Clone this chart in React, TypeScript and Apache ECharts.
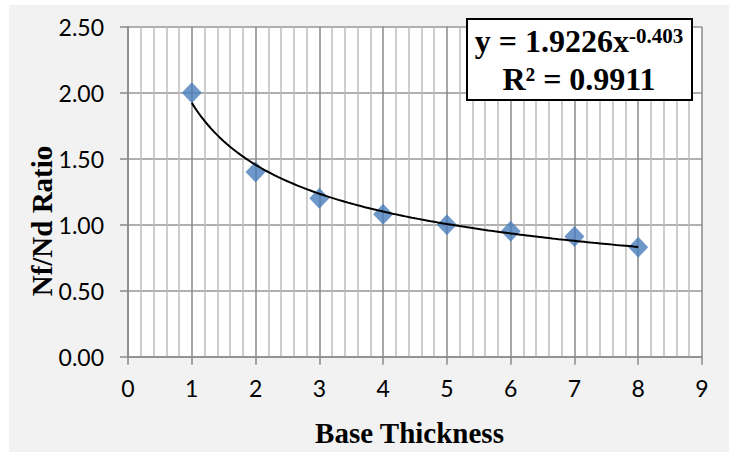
import React, { useEffect, useRef } from "react";
import * as echarts from "echarts";

const thickness = [1, 2, 3, 4, 5, 6, 7, 8];
const ratio = [2.0, 1.4, 1.2, 1.08, 1.0, 0.95, 0.91, 0.83];
const fitCoef = 1.9226;
const fitExp = -0.403;
const equationLine1 = "y = 1.9226x";
const equationSup = "-0.403";
const equationLine2 = "R² = 0.9911";
const xTitle = "Base Thickness";
const yTitle = "Nf/Nd Ratio";

export default function App() {
  const ref = useRef<HTMLDivElement>(null);
  useEffect(() => {
    if (!ref.current) return;
    const chart = echarts.init(ref.current, null, { renderer: "svg" });
    const trend: number[][] = [];
    for (let x = thickness[0]; x <= thickness[thickness.length - 1] + 1e-9; x += 0.05) {
      trend.push([x, fitCoef * Math.pow(x, fitExp)]);
    }
    const tickFont = { fontFamily: "Lato", fontSize: 23, color: "#000" };
    chart.setOption({
      animation: false,
      grid: {
        left: 128,
        top: 26.7,
        right: 27,
        bottom: 96.3,
        show: true,
        backgroundColor: "#ffffff",
        borderWidth: 0,
      },
      xAxis: {
        type: "value",
        min: 0,
        max: 9,
        interval: 1,
        axisLine: { show: true, lineStyle: { color: "#8a8a8a", width: 1.5 } },
        axisTick: { show: true, length: 8, inside: false, lineStyle: { color: "#8a8a8a", width: 1.5 } },
        axisLabel: { ...tickFont, margin: 20 },
        splitLine: { show: true, lineStyle: { color: "#8a8a8a", width: 1.5 } },
        minorTick: { show: false, splitNumber: 5 },
        minorSplitLine: { show: true, lineStyle: { color: "#bdbdbd", width: 1.5 } },
      },
      yAxis: {
        type: "value",
        min: 0,
        max: 2.5,
        interval: 0.5,
        axisLine: { show: true, lineStyle: { color: "#8a8a8a", width: 1.5 } },
        axisTick: { show: true, length: 8, inside: false, lineStyle: { color: "#8a8a8a", width: 1.5 } },
        axisLabel: { ...tickFont, margin: 24, formatter: (v: number) => v.toFixed(2) },
        splitLine: { show: true, lineStyle: { color: "#969696", width: 1.5 } },
      },
      series: [
        {
          type: "line",
          data: trend,
          showSymbol: false,
          symbol: "none",
          lineStyle: { color: "#000", width: 2 },
          z: 3,
          silent: true,
        },
        {
          type: "scatter",
          data: thickness.map((x, i) => [x, ratio[i]]),
          symbol: "diamond",
          symbolSize: [20, 21],
          itemStyle: { color: "#4A7EBB" },
          z: 2,
        },
      ],
      graphic: [
        {
          type: "rect",
          shape: { x: 467, y: 19, width: 225, height: 81 },
          style: { fill: "#ffffff", stroke: "#000000", lineWidth: 2 },
          z: 100,
        },
        {
          type: "text",
          x: 579,
          y: 41,
          z: 101,
          style: {
            text: `{m|${equationLine1}}{s|${equationSup}}`,
            textAlign: "center",
            textVerticalAlign: "middle",
            rich: {
              m: { fontFamily: "Liberation Serif", fontWeight: "bold", fontSize: 32, fill: "#000" },
              s: { fontFamily: "Liberation Serif", fontWeight: "bold", fontSize: 21, fill: "#000", verticalAlign: "top" },
            },
          },
        },
        {
          type: "text",
          x: 579,
          y: 78.5,
          z: 101,
          style: {
            text: equationLine2,
            textAlign: "center",
            textVerticalAlign: "middle",
            fontFamily: "Liberation Serif",
            fontWeight: "bold",
            fontSize: 32,
            fill: "#000",
          },
        },
        {
          type: "text",
          x: 409.5,
          y: 433,
          style: {
            text: xTitle,
            textAlign: "center",
            textVerticalAlign: "middle",
            fontFamily: "Liberation Serif",
            fontWeight: "bold",
            fontSize: 29,
            fill: "#000",
          },
        },
        {
          type: "text",
          x: 41.5,
          y: 221,
          rotation: Math.PI / 2,
          style: {
            text: yTitle,
            textAlign: "center",
            textVerticalAlign: "middle",
            fontFamily: "Liberation Serif",
            fontWeight: "bold",
            fontSize: 29,
            fill: "#000",
          },
        },
      ],
    });
    return () => chart.dispose();
  }, []);
  return (
    <div style={{ position: "fixed", left: 0, top: 0, width: 729, height: 453, background: "#ffffff" }}>
      <div style={{ position: "absolute", left: 9, top: 5, width: 720, height: 447, background: "#f2f2f2" }} />
      <div ref={ref} style={{ position: "absolute", left: 0, top: 0, width: 729, height: 453 }} />
    </div>
  );
}
